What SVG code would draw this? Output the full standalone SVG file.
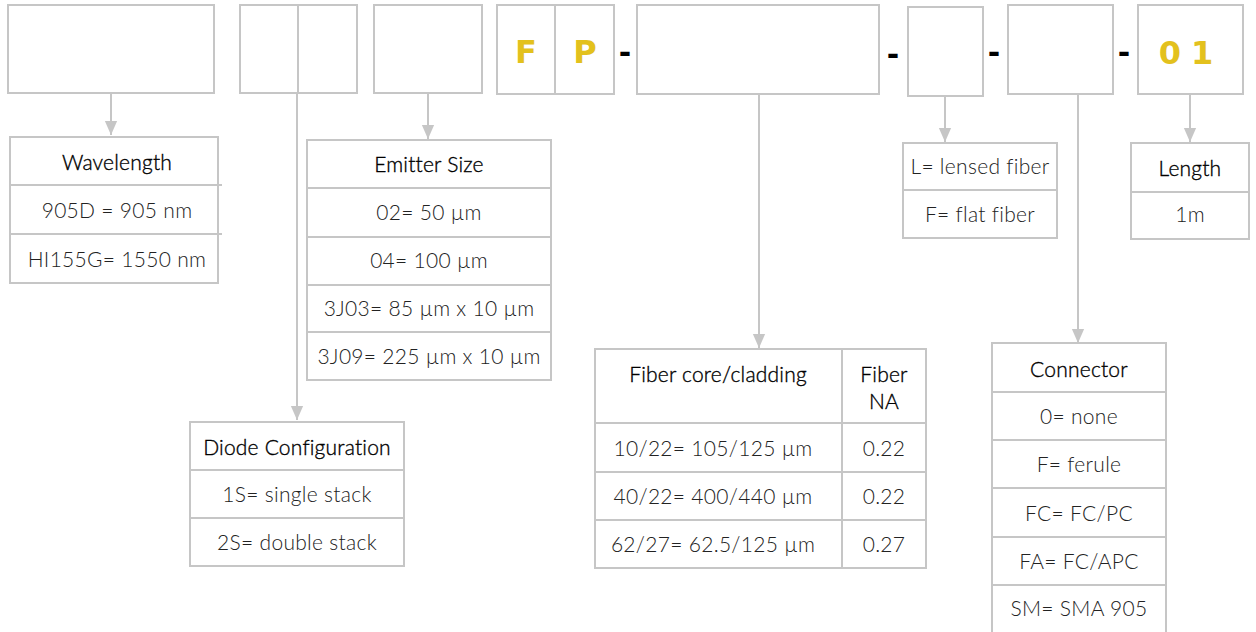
<svg xmlns="http://www.w3.org/2000/svg" width="1256" height="632" viewBox="0 0 1256 632">
<style>
.b{fill:#fff;stroke:#c6c6c6;stroke-width:2}
.ln{stroke:#c6c6c6;stroke-width:2;fill:none}
.h{font-family:Lato,"Liberation Sans",sans-serif;font-weight:300;font-size:21px;fill:#000;stroke:#000;stroke-width:0.35;text-anchor:middle;letter-spacing:0.2px}
.t{font-family:Lato,"Liberation Sans",sans-serif;font-weight:300;font-size:21px;fill:#222;text-anchor:middle;letter-spacing:0.3px}
.y{font-family:"DejaVu Sans",sans-serif;font-weight:bold;font-size:32px;fill:#e3c11d;text-anchor:middle}
.d{font-family:"DejaVu Sans",sans-serif;font-weight:bold;font-size:30px;fill:#000;text-anchor:middle}
</style>
<defs>
<marker id="arr" markerWidth="14" markerHeight="16" refX="16" refY="7" orient="auto" markerUnits="userSpaceOnUse" viewBox="0 0 16 14">
<path d="M0,0 L16,7 L0,14 Z" fill="#c6c6c6"/>
</marker>
</defs>

<g id="code">
<rect class="b" x="8" y="5" width="206" height="88"/>
<rect class="b" x="240" y="5" width="58" height="88"/>
<rect class="b" x="298" y="5" width="59" height="88"/>
<rect class="b" x="374" y="5" width="108" height="88"/>
<rect class="b" x="497" y="5" width="58" height="89"/>
<rect class="b" x="555" y="5" width="59" height="89"/>
<text class="y" x="526" y="63">F</text>
<text class="y" x="585" y="63">P</text>
<text class="d" x="625" y="63">-</text>
<rect class="b" x="637" y="5" width="242" height="89"/>
<text class="d" x="893" y="65">-</text>
<rect class="b" x="908" y="7" width="75" height="89"/>
<text class="d" x="994" y="63">-</text>
<rect class="b" x="1008" y="5" width="105" height="89"/>
<text class="d" x="1124" y="63">-</text>
<rect class="b" x="1138" y="5" width="105" height="89"/>
<text class="y" x="1191" y="64" letter-spacing="10">01</text>
</g>

<g id="connectors">
<line class="ln" x1="111" y1="93" x2="111" y2="135" marker-end="url(#arr)"/>
<line class="ln" x1="297" y1="93" x2="297" y2="420" marker-end="url(#arr)"/>
<line class="ln" x1="428" y1="93" x2="428" y2="139" marker-end="url(#arr)"/>
<line class="ln" x1="759" y1="93" x2="759" y2="348" marker-end="url(#arr)"/>
<line class="ln" x1="945" y1="96" x2="945" y2="142" marker-end="url(#arr)"/>
<line class="ln" x1="1078" y1="94" x2="1078" y2="343" marker-end="url(#arr)"/>
<line class="ln" x1="1190" y1="94" x2="1190" y2="142" marker-end="url(#arr)"/>
</g>

<g id="wavelength">
<rect class="b" x="10" y="137" width="208" height="48"/>
<rect class="b" x="10" y="185" width="208" height="49"/>
<rect class="b" x="10" y="234" width="208" height="49"/>
<line class="ln" x1="10" y1="185" x2="222" y2="185"/>
<line class="ln" x1="10" y1="234" x2="222" y2="234"/>
<text class="h" x="117" y="170">Wavelength</text>
<text class="t" x="117" y="218">905D = 905 nm</text>
<text class="t" x="117" y="267">HI155G= 1550 nm</text>
</g>

<g id="emitter">
<rect class="b" x="307" y="140" width="244" height="48"/>
<rect class="b" x="307" y="188" width="244" height="49"/>
<rect class="b" x="307" y="237" width="244" height="48"/>
<rect class="b" x="307" y="285" width="244" height="47"/>
<rect class="b" x="307" y="332" width="244" height="48"/>
<text class="h" x="429" y="172">Emitter Size</text>
<text class="t" x="429" y="220">02= 50 µm</text>
<text class="t" x="429" y="268">04= 100 µm</text>
<text class="t" x="429" y="316">3J03= 85 µm x 10 µm</text>
<text class="t" x="429" y="364">3J09= 225 µm x 10 µm</text>
</g>

<g id="diode">
<rect class="b" x="190" y="422" width="214" height="48"/>
<rect class="b" x="190" y="470" width="214" height="48"/>
<rect class="b" x="190" y="518" width="214" height="48"/>
<text class="h" x="297" y="455">Diode Configuration</text>
<text class="t" x="297" y="502">1S= single stack</text>
<text class="t" x="297" y="550">2S= double stack</text>
</g>

<g id="fiber">
<rect class="b" x="595" y="349" width="247" height="74"/>
<rect class="b" x="842" y="349" width="84" height="74"/>
<rect class="b" x="595" y="423" width="247" height="49"/>
<rect class="b" x="842" y="423" width="84" height="49"/>
<rect class="b" x="595" y="472" width="247" height="48"/>
<rect class="b" x="842" y="472" width="84" height="48"/>
<rect class="b" x="595" y="520" width="247" height="48"/>
<rect class="b" x="842" y="520" width="84" height="48"/>
<text class="h" x="718" y="382">Fiber core/cladding</text>
<text class="h" x="884" y="382">Fiber</text>
<text class="h" x="884" y="409">NA</text>
<text class="t" x="713" y="456">10/22= 105/125 µm</text>
<text class="t" x="884" y="456">0.22</text>
<text class="t" x="713" y="504">40/22= 400/440 µm</text>
<text class="t" x="884" y="504">0.22</text>
<text class="t" x="713" y="552">62/27= 62.5/125 µm</text>
<text class="t" x="884" y="552">0.27</text>
</g>

<g id="lens">
<rect class="b" x="903" y="143" width="154" height="47"/>
<rect class="b" x="903" y="190" width="154" height="48"/>
<text class="t" x="980" y="174">L= lensed fiber</text>
<text class="t" x="980" y="222">F= flat fiber</text>
</g>

<g id="length">
<rect class="b" x="1131" y="143" width="118" height="49"/>
<rect class="b" x="1131" y="192" width="118" height="47"/>
<text class="h" x="1190" y="176">Length</text>
<text class="t" x="1190" y="222">1m</text>
</g>

<g id="connector">
<rect class="b" x="992" y="343" width="174" height="49"/>
<rect class="b" x="992" y="392" width="174" height="48"/>
<rect class="b" x="992" y="440" width="174" height="48"/>
<rect class="b" x="992" y="488" width="174" height="49"/>
<rect class="b" x="992" y="537" width="174" height="48"/>
<rect class="b" x="992" y="585" width="174" height="60"/>
<text class="h" x="1079" y="377">Connector</text>
<text class="t" x="1079" y="424">0= none</text>
<text class="t" x="1079" y="472">F= ferule</text>
<text class="t" x="1079" y="521">FC= FC/PC</text>
<text class="t" x="1079" y="569">FA= FC/APC</text>
<text class="t" x="1079" y="616">SM= SMA 905</text>
</g>
</svg>
